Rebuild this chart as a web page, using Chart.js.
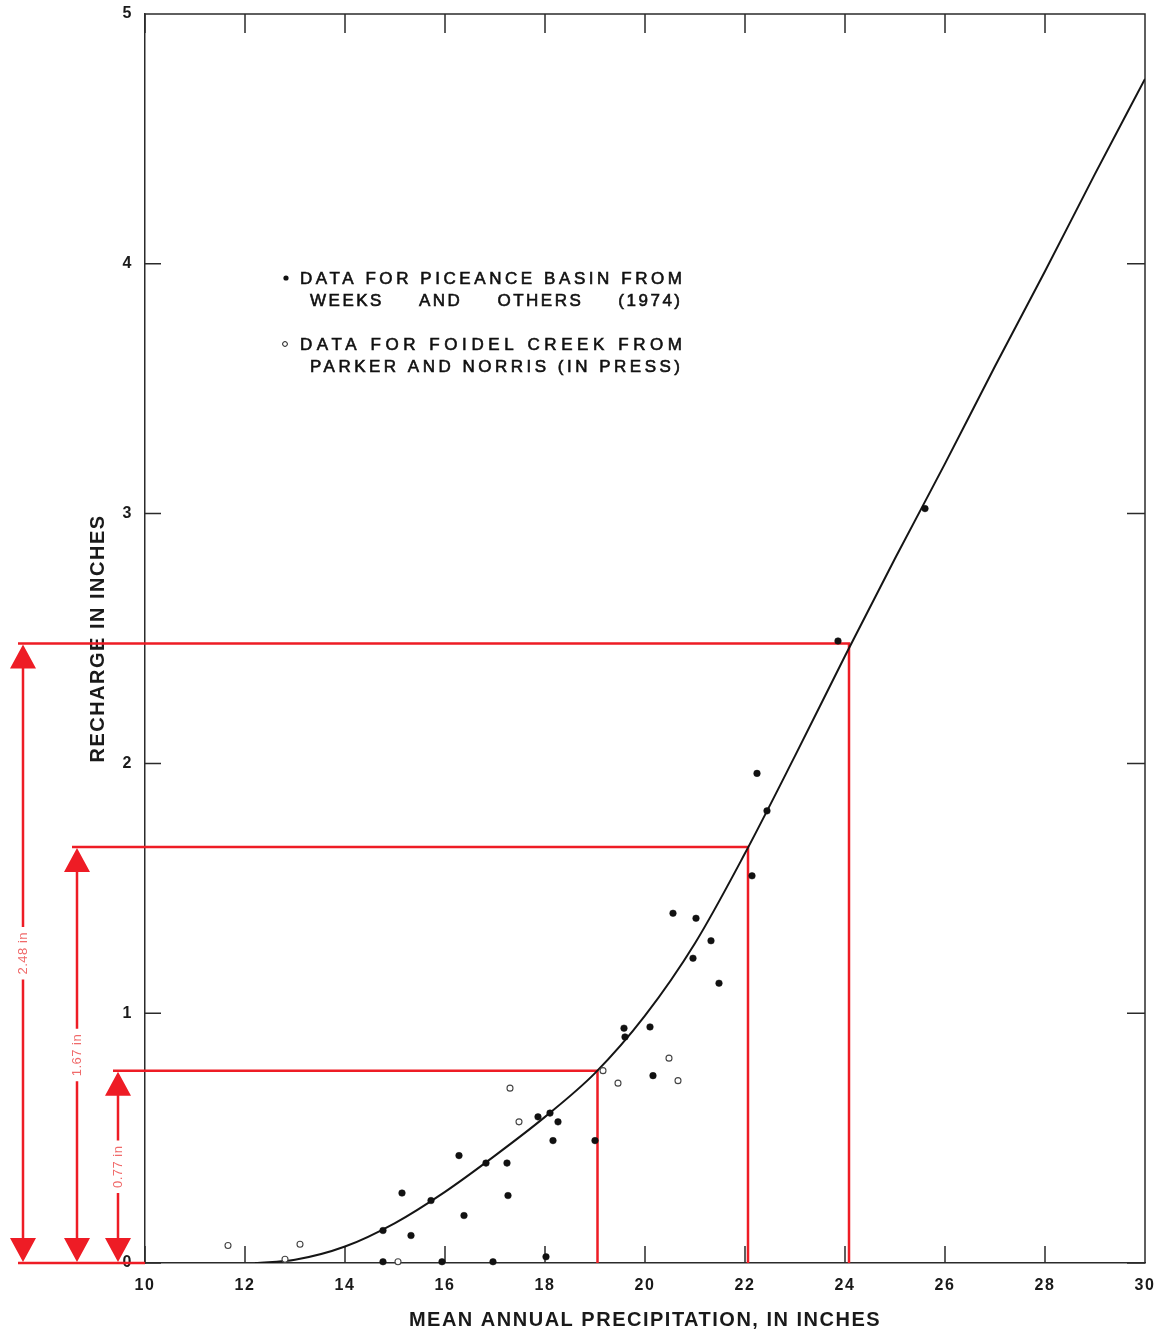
<!DOCTYPE html>
<html>
<head>
<meta charset="utf-8">
<title>Recharge vs mean annual precipitation</title>
<script src="https://cdn.jsdelivr.net/npm/chart.js@4.4.1/dist/chart.umd.min.js"></script>
<style>
  html, body { margin: 0; padding: 0; background: #fff; }
  #wrap { width: 1161px; height: 1335px; position: relative; }
</style>
</head>
<body>
<div id="wrap"><canvas id="recharge_chart"></canvas></div>
<script>
// axis ticks
var xTickValues = [10, 12, 14, 16, 18, 20, 22, 24, 26, 28, 30];
var yTickValues = [0, 1, 2, 3, 4, 5];

// fitted curve
var curvePrecip   = [12.2, 13, 14, 15, 16, 17, 18, 19, 20, 21, 22, 23, 24, 25, 26, 27, 28, 29, 30];
var curveRecharge = [0, 0.013, 0.066, 0.16, 0.285, 0.43, 0.585, 0.76, 0.99, 1.28, 1.64, 2.03, 2.43, 2.82, 3.2, 3.59, 3.97, 4.36, 4.74];

// Piceance Basin points (filled)
var piceancePrecip   = [14.76, 14.76, 15.14, 15.32, 15.72, 15.94, 16.28, 16.38, 16.82, 16.96, 17.24, 17.26, 17.86, 18.02, 18.1, 18.16, 18.26, 19.0, 19.58, 19.6, 20.1, 20.16, 20.56, 20.96, 21.02, 21.32, 21.48, 22.14, 22.24, 22.44, 23.86, 25.6];
var piceanceRecharge = [0.005, 0.13, 0.28, 0.11, 0.25, 0.005, 0.43, 0.19, 0.40, 0.005, 0.40, 0.27, 0.585, 0.025, 0.60, 0.49, 0.565, 0.49, 0.94, 0.905, 0.945, 0.75, 1.40, 1.22, 1.38, 1.29, 1.12, 1.55, 1.96, 1.81, 2.49, 3.02];

// Foidel Creek points (open)
var foidelPrecip   = [11.66, 12.8, 13.1, 15.06, 17.3, 17.48, 19.16, 19.46, 20.48, 20.66];
var foidelRecharge = [0.07, 0.015, 0.075, 0.005, 0.70, 0.565, 0.77, 0.72, 0.82, 0.73];

// red read-off boxes
var readPrecip   = [19.05, 22.06, 24.08];
var readRecharge = [0.77, 1.665, 2.48];
var readLabels   = ['0.77 in', '1.67 in', '2.48 in'];

var legendLines = ['DATA FOR PICEANCE BASIN FROM', 'WEEKS AND OTHERS (1974)', 'DATA FOR FOIDEL CREEK FROM', 'PARKER AND NORRIS (IN PRESS)'];

function pts(xs, ys) {
  return xs.map(function (v, i) { return {x: v, y: ys[i]}; });
}

var FONT = "'Liberation Sans', Arial, Helvetica, sans-serif";
Chart.defaults.font.family = FONT;

// text drawn to a given width by spreading the letters
function spacedText(ctx, text, x, y, width) {
  ctx.letterSpacing = '0px';
  var w = ctx.measureText(text).width;
  var s = (width - w) / (text.length - 1);
  ctx.letterSpacing = s + 'px';
  ctx.fillText(text, x, y);
  ctx.strokeText(text, x, y);
  ctx.letterSpacing = '0px';
}
// words pushed apart to fill the width
function justifiedText(ctx, text, x, y, width, spacing) {
  var words = text.split(' ');
  ctx.letterSpacing = spacing + 'px';
  var widths = words.map(function (w) { return ctx.measureText(w).width - spacing; });
  var total = widths.reduce(function (a, b) { return a + b; }, 0);
  var gap = (width - total) / (words.length - 1);
  var cx = x;
  words.forEach(function (w, i) { ctx.fillText(w, cx, y); ctx.strokeText(w, cx, y); cx += widths[i] + gap; });
  ctx.letterSpacing = '0px';
}

var spacing = {
  id: 'spacing',
  beforeDraw: function (chart) { chart.ctx.letterSpacing = '1.5px'; }
};

var frameTicks = {
  id: 'frameTicks',
  beforeDatasetsDraw: function (chart) {
    var ctx = chart.ctx, a = chart.chartArea, xs = chart.scales.x, ys = chart.scales.y;
    ctx.save();
    ctx.strokeStyle = '#2b2b2b';
    ctx.lineWidth = 1.5;
    ctx.beginPath();
    ctx.moveTo(a.left, a.top); ctx.lineTo(a.right, a.top); ctx.lineTo(a.right, a.bottom);
    xs.ticks.forEach(function (t) {
      var px = xs.getPixelForValue(t.value);
      ctx.moveTo(px, a.bottom); ctx.lineTo(px, a.bottom - 17);
      ctx.moveTo(px, a.top); ctx.lineTo(px, a.top + 19);
    });
    ys.ticks.forEach(function (t) {
      var py = ys.getPixelForValue(t.value);
      ctx.moveTo(a.left, py); ctx.lineTo(a.left + 16, py);
      ctx.moveTo(a.right, py); ctx.lineTo(a.right - 18, py);
    });
    ctx.stroke();
    ctx.restore();
  }
};

var readOff = {
  id: 'readOff',
  beforeDatasetsDraw: function (chart) {
    var ctx = chart.ctx, a = chart.chartArea, xs = chart.scales.x, ys = chart.scales.y;
    var y0 = ys.getPixelForValue(0);
    var offsets = [27, 68, 122];
    ctx.save();
    ctx.strokeStyle = '#ee1c25';
    ctx.fillStyle = '#ee1c25';
    ctx.lineWidth = 2.5;
    ctx.font = '13px ' + FONT;
    ctx.letterSpacing = '0.5px';
    ctx.beginPath();
    ctx.moveTo(a.left - offsets[2] - 5, y0); ctx.lineTo(a.left, y0);
    ctx.stroke();
    readPrecip.forEach(function (p, i) {
      var ax = a.left - offsets[i];
      var px = xs.getPixelForValue(p);
      var py = ys.getPixelForValue(readRecharge[i]);
      var mid = (py + y0) / 2;
      var half = ctx.measureText(readLabels[i]).width / 2 + 5;
      ctx.beginPath();
      ctx.moveTo(ax - 5, py); ctx.lineTo(px, py); ctx.lineTo(px, y0);
      ctx.moveTo(ax, py + 20); ctx.lineTo(ax, mid - half);
      ctx.moveTo(ax, mid + half); ctx.lineTo(ax, y0 - 20);
      ctx.stroke();
      ctx.beginPath();
      ctx.moveTo(ax, py + 1); ctx.lineTo(ax - 13, py + 25); ctx.lineTo(ax + 13, py + 25); ctx.closePath();
      ctx.moveTo(ax, y0 - 1); ctx.lineTo(ax - 13, y0 - 25); ctx.lineTo(ax + 13, y0 - 25); ctx.closePath();
      ctx.fill();
      ctx.save();
      ctx.translate(ax, mid);
      ctx.rotate(-Math.PI / 2);
      ctx.fillStyle = '#f06a6a';
      ctx.textAlign = 'center';
      ctx.textBaseline = 'middle';
      ctx.fillText(readLabels[i], 0, 0);
      ctx.restore();
    });
    ctx.restore();
  }
};

var notes = {
  id: 'notes',
  afterDraw: function (chart) {
    var ctx = chart.ctx, a = chart.chartArea;
    var lx = a.left + 155, ty = a.top;
    ctx.save();
    ctx.fillStyle = '#111';
    ctx.strokeStyle = '#111';
    ctx.lineWidth = 0.6;
    ctx.font = '17px ' + FONT;
    ctx.textBaseline = 'middle';
    ctx.textAlign = 'left';
    ctx.beginPath(); ctx.arc(lx - 14, ty + 264, 2.6, 0, Math.PI * 2); ctx.fill();
    ctx.beginPath(); ctx.arc(lx - 15, ty + 330, 2.4, 0, Math.PI * 2); ctx.lineWidth = 1; ctx.stroke();
    ctx.lineWidth = 0.6;
    spacedText(ctx, legendLines[0], lx, ty + 265, 382);
    justifiedText(ctx, legendLines[1], lx + 10, ty + 287, 370, 2.5);
    spacedText(ctx, legendLines[2], lx, ty + 331, 382);
    spacedText(ctx, legendLines[3], lx + 10, ty + 353, 370);
    ctx.restore();
  }
};

var ctx = document.getElementById('recharge_chart').getContext('2d');
var chart = new Chart(ctx, {
  type: 'scatter',
  data: {
    datasets: [
      {
        label: 'Piceance Basin',
        data: pts(piceancePrecip, piceanceRecharge),
        pointRadius: 3.3,
        pointBackgroundColor: '#111',
        pointBorderColor: '#111',
        pointBorderWidth: 0.5,
        clip: false
      },
      {
        label: 'Foidel Creek',
        data: pts(foidelPrecip, foidelRecharge),
        pointRadius: 3,
        pointBackgroundColor: '#fff',
        pointBorderColor: '#444',
        pointBorderWidth: 1.1,
        clip: false
      },
      {
        label: 'Curve',
        data: pts(curvePrecip, curveRecharge),
        showLine: true,
        pointRadius: 0,
        borderColor: '#151515',
        borderWidth: 2,
        cubicInterpolationMode: 'monotone'
      }
    ]
  },
  options: {
    responsive: true,
    maintainAspectRatio: false,
    animation: false,
    devicePixelRatio: 1,
    layout: { padding: { left: 85, top: 14, right: 16, bottom: 0 } },
    plugins: { legend: { display: false }, tooltip: { enabled: false } },
    scales: {
      x: {
        type: 'linear',
        min: 10,
        max: 30,
        afterBuildTicks: function (s) { s.ticks = xTickValues.map(function (v) { return {value: v}; }); },
        afterFit: function (s) { s.height = 72; s.paddingLeft = 0; s.paddingRight = 0; },
        grid: { display: false, drawTicks: false },
        border: { display: true, color: '#2b2b2b', width: 1.5 },
        ticks: { padding: 13, color: '#1a1a1a', font: { size: 16, weight: 'bold' }, maxRotation: 0, autoSkip: false },
        title: { display: true, text: 'MEAN ANNUAL PRECIPITATION, IN INCHES', color: '#1a1a1a', font: { size: 20, weight: 'bold' }, padding: { top: 0, bottom: 3 } }
      },
      y: {
        type: 'linear',
        min: 0,
        max: 5,
        afterBuildTicks: function (s) { s.ticks = yTickValues.map(function (v) { return {value: v}; }); },
        afterFit: function (s) { s.width = 60; s.paddingTop = 0; s.paddingBottom = 0; },
        grid: { display: false, drawTicks: false },
        border: { display: true, color: '#2b2b2b', width: 1.5 },
        ticks: { padding: 12, color: '#1a1a1a', font: { size: 16, weight: 'bold' }, autoSkip: false },
        title: { display: true, text: 'RECHARGE IN INCHES', color: '#1a1a1a', font: { size: 20, weight: 'bold' }, padding: { top: 1, bottom: 0 } }
      }
    }
  },
  plugins: [spacing, frameTicks, readOff, notes]
});
</script>
</body>
</html>
